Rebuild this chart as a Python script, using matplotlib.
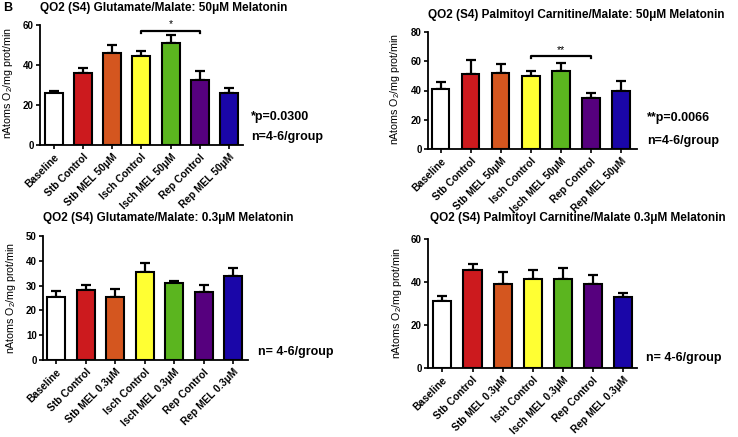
import matplotlib
matplotlib.use("Agg")
import matplotlib.pyplot as plt
import numpy as np

plt.rcParams['font.family'] = ['Liberation Sans', 'DejaVu Sans']
plt.rcParams['mathtext.fontset'] = 'custom'
plt.rcParams['mathtext.rm'] = 'Liberation Sans'
plt.rcParams['mathtext.it'] = 'Liberation Sans:italic'
plt.rcParams['mathtext.bf'] = 'Liberation Sans:bold'

# datos (media y error superior)
groups_50 = ["Baseline", "Stb Control", "Stb MEL 50\u03bcM", "Isch Control",
             "Isch MEL 50\u03bcM", "Rep Control", "Rep MEL 50\u03bcM"]
groups_03 = ["Baseline", "Stb Control", "Stb MEL 0.3\u03bcM", "Isch Control",
             "Isch MEL 0.3\u03bcM", "Rep Control", "Rep MEL 0.3\u03bcM"]
colores = ["#ffffff", "#cc1a1e", "#d4561f", "#ffff33", "#5bb51f", "#56007e", "#1a06a8"]

glut_50 = [26.2, 36.0, 46.0, 44.5, 50.8, 32.5, 26.0]
glut_50_err = [0.8, 2.6, 3.8, 2.3, 4.2, 4.5, 2.5]
palm_50 = [41.0, 51.0, 52.0, 50.0, 53.0, 35.0, 39.5]
palm_50_err = [5.0, 10.0, 6.0, 3.0, 6.0, 3.5, 7.0]
glut_03 = [25.5, 28.2, 25.5, 35.5, 31.0, 27.5, 34.0]
glut_03_err = [2.2, 2.0, 3.0, 3.5, 1.0, 2.6, 3.0]
palm_03 = [31.0, 45.5, 39.0, 41.5, 41.5, 39.0, 33.0]
palm_03_err = [2.5, 2.7, 5.5, 4.0, 5.0, 4.2, 2.0]

W, H = 738, 437
fig = plt.figure(figsize=(W / 100, H / 100), dpi=100)


def ejes(x0, x1, ytop, y0):
    return fig.add_axes([x0 / W, 1 - y0 / H, (x1 - x0) / W, (y0 - ytop) / H])


def panel(ax, vals, errs, labels, ymax, ystep, xlim, width):
    x = np.arange(len(vals))
    ax.bar(x, vals, width=width, color=colores, edgecolor="black", linewidth=1.5, zorder=2)
    ax.errorbar(x, vals, yerr=[np.zeros(len(vals)), errs], fmt="none", ecolor="black",
                elinewidth=1.6, capsize=3.5, capthick=1.6, zorder=1)
    ax.set_xlim(*xlim)
    ax.set_ylim(0, ymax)
    ax.set_yticks(np.arange(0, ymax + 1, ystep))
    ax.set_xticks(x)
    ax.set_xticklabels(labels, rotation=45, ha="right", rotation_mode="anchor",
                       fontsize=7.4, fontweight="bold")
    for lb in ax.get_yticklabels():
        lb.set_fontweight("bold")
        lb.set_fontsize(7)
    ax.spines["top"].set_visible(False)
    ax.spines["right"].set_visible(False)
    ax.spines["left"].set_linewidth(1.3)
    ax.spines["bottom"].set_linewidth(1.3)
    ax.tick_params(axis="both", length=3, width=1.2, pad=1.5)
    ax.tick_params(axis="x", pad=2)


def sig(ax, x1, x2, y, texto, ymax):
    d = ymax * 0.02
    ax.plot([x1, x1, x2, x2], [y - d, y, y, y - d], color="black", lw=1.6, clip_on=False)
    ax.text((x1 + x2) / 2, y + d * 0.6, texto, ha="center", va="bottom", fontsize=7.5)


ylab = "nAtoms O$_2$/mg prot/min"

# panel 1
ax1 = ejes(40, 243, 25, 145)
panel(ax1, glut_50, glut_50_err, groups_50, 60, 20, (-0.47, 6.48), 0.62)
sig(ax1, 3, 5, 57, "*", 60)
# panel 2
ax2 = ejes(428, 637, 32, 149)
panel(ax2, palm_50, palm_50_err, groups_50, 80, 20, (-0.42, 6.53), 0.58)
sig(ax2, 3, 5, 63.5, "**", 80)
# panel 3
ax3 = ejes(43, 248, 236, 360)
panel(ax3, glut_03, glut_03_err, groups_03, 50, 10, (-0.44, 6.5), 0.61)
# panel 4
ax4 = ejes(428, 637, 239, 368)
panel(ax4, palm_03, palm_03_err, groups_03, 60, 20, (-0.48, 6.47), 0.6)


def ft(x, y, s, **kw):
    fig.text(x / W, 1 - y / H, s, **kw)


ft(3, 8, "B", fontsize=9, fontweight="bold", va="center")
ft(40, 8, "QO2 (S4) Glutamate/Malate: 50\u03bcM Melatonin", fontsize=8.5, fontweight="bold", va="center")
ft(428, 15, "QO2 (S4) Palmitoyl Carnitine/Malate: 50\u03bcM Melatonin", fontsize=8.5, fontweight="bold", va="center")
ft(43, 218, "QO2 (S4) Glutamate/Malate: 0.3\u03bcM Melatonin", fontsize=8.5, fontweight="bold", va="center")
ft(430, 218, "QO2 (S4) Palmitoyl Carnitine/Malate 0.3\u03bcM Melatonin", fontsize=8.5, fontweight="bold", va="center")

ft(8, 83, ylab, rotation=90, fontsize=7.7, ha="center", va="center")
ft(395, 89, ylab, rotation=90, fontsize=7.7, ha="center", va="center")
ft(11, 298, ylab, rotation=90, fontsize=7.7, ha="center", va="center")
ft(397, 303, ylab, rotation=90, fontsize=7.7, ha="center", va="center")

ft(251, 117, "*p=0.0300", fontsize=9, fontweight="bold", va="center")
ft(251, 137, "n=4-6/group", fontsize=9, fontweight="bold", va="center")
ft(647, 118, "**p=0.0066", fontsize=9, fontweight="bold", va="center")
ft(647, 141, "n=4-6/group", fontsize=9, fontweight="bold", va="center")
ft(258, 352, "n= 4-6/group", fontsize=9, fontweight="bold", va="center")
ft(646, 358, "n= 4-6/group", fontsize=9, fontweight="bold", va="center")

fig.savefig("out.png", dpi=100)
